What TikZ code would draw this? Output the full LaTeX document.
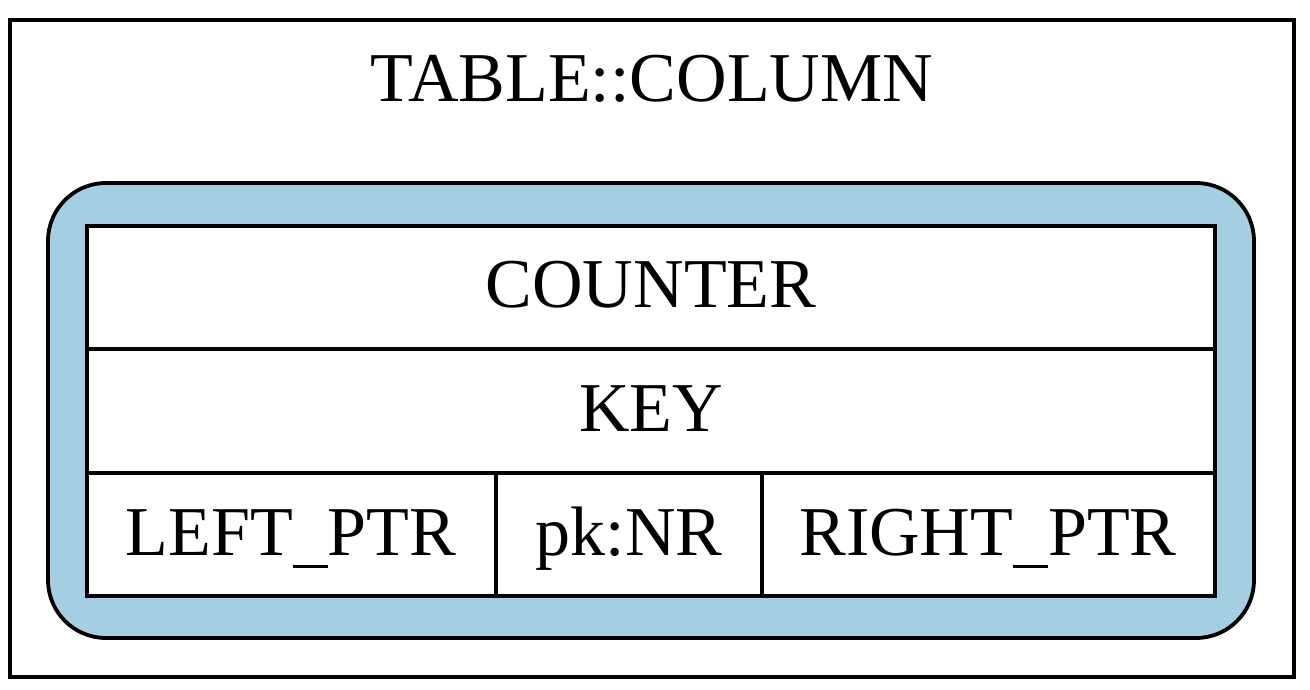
\documentclass[tikz,border=0pt]{standalone}
\usepackage{fontspec}
\setmainfont{Liberation Serif}
\definecolor{clusterblue}{HTML}{A6CEE3}
% underscore set below the baseline, as in the serif face
\newcommand{\usc}{\rule[-13pt]{35pt}{3.5pt}}
\begin{document}
\begin{tikzpicture}[x=1pt,y=-1pt,
  frame/.style={draw=black,line width=3.8pt},
  cell/.style={draw=black,line width=3.8pt,fill=white},
  lbl/.style={anchor=base,font=\fontsize{70}{80}\selectfont,inner sep=0pt}]
\useasboundingbox (0,0) rectangle (1310,690);
% outer cluster frame
\draw[frame,fill=white] (10,20) rectangle (1294,677);
\node[lbl] (title) at (652,102) {TABLE::COLUMN};
% rounded node background
\draw[frame,fill=clusterblue,rounded corners=58pt] (48,183) rectangle (1254,638);
% record table
\draw[cell] (87,226) rectangle (1215,596);
\coordinate (r1l) at (87,349); \coordinate (r1r) at (1215,349);
\coordinate (r2l) at (87,473); \coordinate (r2r) at (1215,473);
\coordinate (c1t) at (496,473); \coordinate (c1b) at (496,596);
\coordinate (c2t) at (762,473); \coordinate (c2b) at (762,596);
\draw[frame] (r1l) -- (r1r);
\draw[frame] (r2l) -- (r2r);
\draw[frame] (c1t) -- (c1b);
\draw[frame] (c2t) -- (c2b);
\node[lbl] (counter) at (651,307) {COUNTER};
\node[lbl] (key) at (651,431) {KEY};
\node[lbl] (left) at (291,555) {LEFT\usc PTR};
\node[lbl] (pk) at (629,555) {pk:NR};
\node[lbl] (right) at (988,555) {RIGHT\usc PTR};
\end{tikzpicture}
\end{document}
